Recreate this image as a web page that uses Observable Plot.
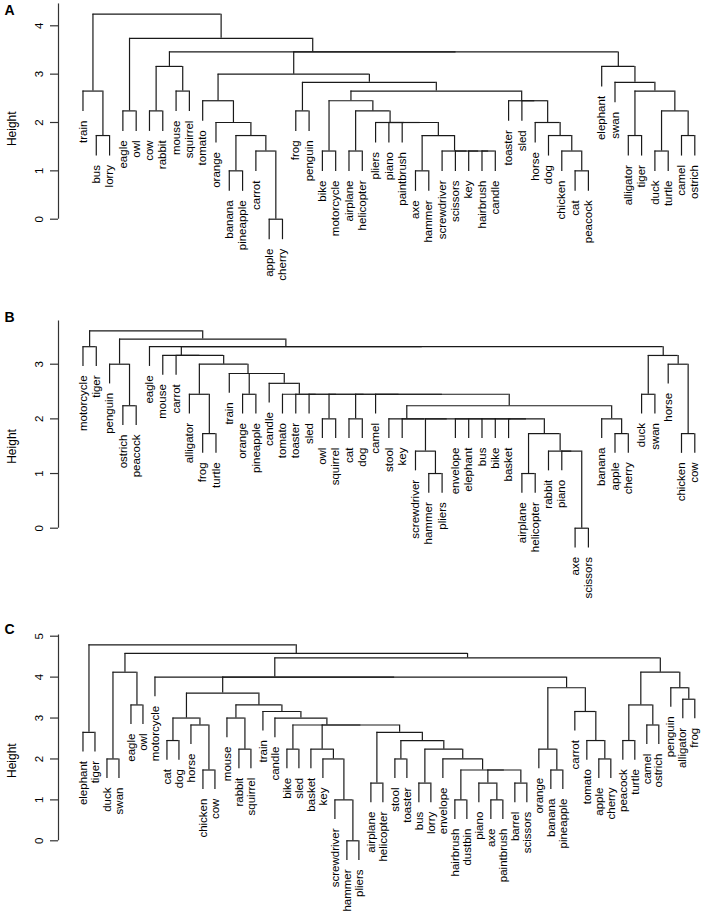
<!DOCTYPE html>
<html><head><meta charset="utf-8">
<script src="https://cdn.jsdelivr.net/npm/d3@7"></script>
<script src="https://cdn.jsdelivr.net/npm/@observablehq/plot@0.6"></script>
<style>
body{margin:0;background:#fff;}
#chart{width:703px;}
#chart svg{display:block;}
</style></head><body><div id="chart"></div>
<script>
// Dendrogram data: a leaf is a label, an internal node is [mergeHeight, left, right]
// ---- Panel A ----
const A_tools = [1.73, [1.0, "axe", "hammer"], [1.41, "screwdriver", [1.41, "scissors", [1.41, "key", [1.41, "hairbrush", "candle"]]]]];
const A_P = [2.0, "pliers", [2.0, "piano", [2.0, "paintbrush", A_tools]]];
const A_N1 = [2.45, [1.41, "bike", "motorcycle"], [2.24, [1.41, "airplane", "helicopter"], A_P]];
const A_toaster = [2.45, "toaster", [2.45, "sled", [2.0, "horse", [1.73, "dog", [1.41, "chicken", [1.0, "cat", "peacock"]]]]]];
const A_fruit = [2.45, "tomato", [2.0, "orange", [1.73, [1.0, "banana", "pineapple"], [1.41, "carrot", [0, "apple", "cherry"]]]]];
const A_mid = [3.0, A_fruit, [2.83, [2.24, "frog", "penguin"], [2.65, A_N1, A_toaster]]];
const A_animals = [3.16, "elephant", [2.83, "swan", [2.65, [1.73, "alligator", "tiger"], [2.24, [1.41, "duck", "turtle"], [1.73, "camel", "ostrich"]]]]];
const treeA = [4.24, [2.65, "train", [1.73, "bus", "lorry"]],
  [3.74, [2.24, "eagle", "owl"],
    [3.46, [3.16, [2.24, "cow", "rabbit"], [2.65, "mouse", "squirrel"]], [3.46, A_mid, A_animals]]]];

// ---- Panel B ----
const B_AH = [1.73, [1.0, "airplane", "helicopter"], [1.41, "rabbit", [1.41, "piano", [0, "axe", "scissors"]]]];
const B_S = [2.0, "stool", [2.0, "key", [2.0, [1.41, "screwdriver", [1.0, "hammer", "pliers"]],
  [2.0, "envelope", [2.0, "elephant", [2.0, "bus", [2.0, "bike", [2.0, "basket", B_AH]]]]]]]];
const B_big = [2.24, B_S, [2.0, "banana", [1.73, "apple", "cherry"]]];
const B_W = [2.65, "candle", [2.45, "tomato", [2.45, "toaster", [2.45, "sled",
  [2.45, [2.0, "owl", "squirrel"], [2.45, [2.0, "cat", "dog"], [2.45, "camel", B_big]]]]]]];
const B_Z = [3.0, [2.45, "alligator", [1.73, "frog", "turtle"]], [2.83, "train", [2.83, [2.45, "orange", "pineapple"], B_W]]];
const B_X = [3.16, "mouse", [3.16, "carrot", B_Z]];
const B_Y = [3.16, [2.45, "duck", "swan"], [3.0, "horse", [1.73, "chicken", "cow"]]];
const treeB = [3.61, [3.32, "motorcycle", "tiger"],
  [3.46, [3.0, "penguin", [2.24, "ostrich", "peacock"]], [3.32, "eagle", [3.32, B_X, B_Y]]]];

// ---- Panel C ----
const C_G = [2.65, [1.41, "airplane", "helicopter"], [2.45, [2.0, "stool", "toaster"], [2.24, [1.41, "bus", "lorry"],
  [2.0, "envelope", [1.73, [1.0, "hairbrush", "dustbin"], [1.73, [1.41, "piano", [1.0, "axe", "paintbrush"]], [1.41, "barrel", "scissors"]]]]]]];
const C_tools = [2.24, "basket", [2.0, "key", [1.0, "screwdriver", [0, "hammer", "pliers"]]]];
const C_M = [3.61, [3.0, [2.45, "cat", "dog"], [2.83, "horse", [1.73, "chicken", "cow"]]],
  [3.32, [3.0, "mouse", [2.24, "rabbit", "squirrel"]],
    [3.16, "train", [3.0, "candle", [2.83, [2.24, "bike", "sled"], [2.83, C_tools, C_G]]]]]];
const C_F = [3.74, [2.24, "orange", [1.73, "banana", "pineapple"]], [3.16, "carrot", [2.45, "tomato", [2.0, "apple", "cherry"]]]];
const C_R = [4.12, [3.32, [2.45, "peacock", "turtle"], [2.83, "camel", "ostrich"]], [3.74, "penguin", [3.46, "alligator", "frog"]]];
const treeC = [4.79, [2.65, "elephant", "tiger"],
  [4.58, [4.12, [2.0, "duck", "swan"], [3.32, "eagle", "owl"]],
    [4.47, [4.0, "motorcycle", [4.0, C_M, C_F]], C_R]]];

const ticksA = [0, 1, 2, 3, 4];
const ticksB = [0, 1, 2, 3];
const ticksC = [0, 1, 2, 3, 4, 5];
const panelLetters = ["A", "B", "C"];
const axisTitle = "Height";

// layout (pixels)
const panels = [
  {tree: treeA, ticks: ticksA, letter: panelLetters[0], height: 300, y0: 218.7, yTop: 25.3, titleDy: -4.4, letterDy: 5},
  {tree: treeB, ticks: ticksB, letter: panelLetters[1], height: 310, y0: 227.7, yTop: 63.7, titleDy: 8.3, letterDy: 12},
  {tree: treeC, ticks: ticksC, letter: panelLetters[2], height: 305, y0: 230.3, yTop: 25.7, titleDy: 15, letterDy: 14}
];

function build(tree) {
  const leaves = [], internals = [];
  let idx = 0;
  function walk(n) {
    if (typeof n === "string") { const l = {name: n, x: idx++, leaf: true}; leaves.push(l); return l; }
    const [h, a, b] = n;
    const A = walk(a), B = walk(b);
    const node = {h, x: (A.x + B.x) / 2, children: [A, B]};
    internals.push(node);
    return node;
  }
  const root = walk(tree);
  const hang = 0.1 * root.h;
  const hs = [], vs = [];
  for (const node of internals) {
    hs.push({x1: node.children[0].x, x2: node.children[1].x, y: node.h});
    for (const c of node.children) {
      const top = c.leaf ? node.h - hang : c.h;
      if (c.leaf) c.y = top;
      vs.push({x: c.x, y1: top, y2: node.h});
    }
  }
  return {leaves, hs, vs, n: idx, maxH: root.h};
}

const font = "'Liberation Sans', Arial, Helvetica, sans-serif";
const lineColor = "#1a1a1a";
const chart = document.getElementById("chart");
for (const P of panels) {
  const {leaves, hs, vs, n, maxH} = build(P.tree);
  const xMin = -0.04 * (n - 1);
  const axisTop = 1.05 * maxH;
  const svg = Plot.plot({
    width: 703, height: P.height,
    marginLeft: 58, marginRight: 8.7, marginTop: 0, marginBottom: 0,
    x: {domain: [xMin, n - 1], axis: null},
    y: {domain: [0, d3.max(P.ticks)], range: [P.y0, P.yTop]},
    style: {fontFamily: font, fontSize: "11.5px", color: "#000", background: "#fff"},
    marks: [
      Plot.ruleX([{x: xMin, y1: 0, y2: axisTop}], {x: "x", y1: "y1", y2: "y2", stroke: "#333", strokeWidth: 1.2}),
      Plot.axisY(P.ticks, {tickSize: 8, tickPadding: 8, tickRotate: -90, tickFormat: d => String(d), label: null, fontSize: 11.5, stroke: "#333", strokeWidth: 1.2}),
      Plot.ruleY(hs, {x1: "x1", x2: "x2", y: "y", stroke: lineColor, strokeWidth: 1.2}),
      Plot.ruleX(vs, {x: "x", y1: "y1", y2: "y2", stroke: lineColor, strokeWidth: 1.2}),
      Plot.text(leaves, {x: "x", y: "y", text: "name", rotate: -90, textAnchor: "end", dy: 9, fontSize: 11.5, fill: "#000"}),
      Plot.text([axisTitle], {frameAnchor: "left", rotate: -90, dx: -46, dy: P.titleDy, fontSize: 12, fill: "#000"}),
      Plot.text([P.letter], {frameAnchor: "top-left", dx: -54, dy: P.letterDy, lineAnchor: "top", textAnchor: "start", fontWeight: "bold", fontSize: 14, fill: "#000"})
    ]
  });
  chart.appendChild(svg);
}
</script>
</body></html>
